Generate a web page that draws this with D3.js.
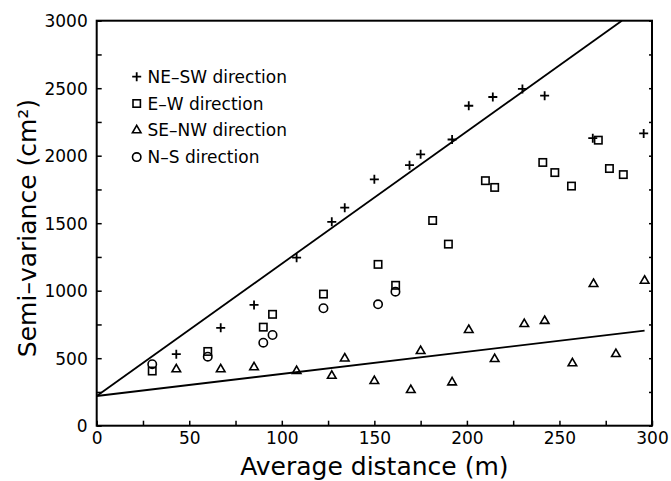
<!DOCTYPE html>
<html><head><meta charset="utf-8">
<script src="https://d3js.org/d3.v7.min.js"></script>
<style>body{margin:0;background:#fff}svg{display:block}</style>
</head><body>
<script>
// ---- data ----
const neSW = [[43,530],[67,725],[85,895],[108,1245],[127,1510],[134,1615],[150,1825],[169,1930],[175,2010],[192,2120],[201,2370],[214,2435],[230,2495],[242,2445],[268,2130],[295.5,2165]];
const eW = [[30,405],[60,550],[90,730],[95,825],[122.5,975],[152,1195],[161.5,1040],[181.5,1520],[190,1345],[210,1815],[215,1765],[241,1950],[247.5,1875],[256.5,1775],[271,2115],[277,1905],[284.5,1860]];
const seNW = [[43,418],[67,418],[85,433],[108,405],[127,370],[134,498],[150,331],[169.7,264],[175,553],[192,321],[201,709],[215,494],[231,753],[242,776],[257,462],[268.4,1050],[280.5,531],[296,1074]];
const nS = [[30,455],[60,511],[90,615],[95,672],[122.5,870],[152,899],[161.4,993]];
const neLine = [[0,220],[283.7,3000]];
const seLine = [[0,220],[296,704]];
const xTicks = [0,50,100,150,200,250,300];
const yTicks = [0,500,1000,1500,2000,2500,3000];
const legendLabels = ["NE–SW direction","E–W direction","SE–NW direction","N–S direction"];
const xTitle = "Average distance (m)";
const yTitle = "Semi–variance (cm²)";

// ---- layout ----
const W = 671, H = 481;
const svg = d3.select("body").append("svg").attr("width", W).attr("height", H);
const x = d3.scaleLinear().domain([0,300]).range([96.7,652]);
const y = d3.scaleLinear().domain([0,3000]).range([425.7,20.7]);
const font = "'DejaVu Sans', sans-serif";
const ink = "#000";
const fmt = d3.format("d");

// frame
svg.append("rect").attr("x", x(0)).attr("y", y(3000))
  .attr("width", x(300)-x(0)).attr("height", y(0)-y(3000))
  .attr("fill","none").attr("stroke",ink).attr("stroke-width",2);

// axes (ticks inward)
const xAxis = svg.append("g").attr("transform",`translate(0,${y(0)})`)
  .call(d3.axisBottom(x).tickValues(d3.range(0,301,25)).tickSize(-5).tickFormat(""));
const xLab = svg.append("g").attr("transform",`translate(0,${y(0)})`)
  .call(d3.axisBottom(x).tickValues(xTicks).tickSize(0).tickPadding(18).tickFormat(fmt));
const yAxis = svg.append("g").attr("transform",`translate(${x(0)},0)`)
  .call(d3.axisLeft(y).tickValues(d3.range(0,3001,250)).tickSize(-5).tickFormat(""));
const yLab = svg.append("g").attr("transform",`translate(${x(0)},0)`)
  .call(d3.axisLeft(y).tickValues(yTicks).tickSize(0).tickPadding(9).tickFormat(fmt));
const yRight = svg.append("g").attr("transform",`translate(${x(300)},0)`)
  .call(d3.axisRight(y).tickValues(d3.range(0,3001,250)).tickSize(-3).tickFormat(""));
[xAxis,xLab,yAxis,yLab,yRight].forEach(g=>{
  g.select(".domain").remove();
  g.selectAll("line").attr("stroke",ink).attr("stroke-width",1.5);
  g.selectAll("text").attr("font-family",font).attr("font-size",17).attr("fill",ink);
});
xLab.selectAll("text").attr("dy","0");
yLab.selectAll("text").attr("dy","0.36em");

// titles
svg.append("text").attr("x",(x(0)+x(300))/2).attr("y",475)
  .attr("text-anchor","middle").attr("font-family",font).attr("font-size",25)
  .attr("fill",ink).text(xTitle);
svg.append("text").attr("transform",`translate(36,228) rotate(-90)`)
  .attr("text-anchor","middle").attr("font-family",font).attr("font-size",25)
  .attr("fill",ink).text(yTitle);

// lines
const line = d3.line().x(d=>x(d[0])).y(d=>y(d[1]));
[neLine, seLine].forEach(l=>{
  svg.append("path").attr("d",line(l)).attr("fill","none").attr("stroke",ink).attr("stroke-width",1.8);
});

// markers
const sw = 1.6;
function cross(g, cx, cy){
  g.append("path").attr("d",`M${cx-4.5},${cy}H${cx+4.5}M${cx},${cy-4.5}V${cy+4.5}`)
   .attr("stroke",ink).attr("stroke-width",1.8).attr("fill","none");
}
function square(g, cx, cy){
  g.append("rect").attr("x",cx-3.7).attr("y",cy-3.7).attr("width",7.4).attr("height",7.4)
   .attr("fill","none").attr("stroke",ink).attr("stroke-width",sw);
}
function tri(g, cx, cy){
  g.append("path").attr("d",d3.symbol().type(d3.symbolTriangle).size(32)())
   .attr("transform",`translate(${cx},${cy})`)
   .attr("fill","none").attr("stroke",ink).attr("stroke-width",sw);
}
function circ(g, cx, cy){
  g.append("circle").attr("cx",cx).attr("cy",cy).attr("r",4.2)
   .attr("fill","none").attr("stroke",ink).attr("stroke-width",sw);
}
const series = [[neSW,cross],[eW,square],[seNW,tri],[nS,circ]];
const pts = svg.append("g");
series.forEach(([data,fn])=>data.forEach(d=>fn(pts, x(d[0]), y(d[1]))));

// legend
const lg = svg.append("g");
legendLabels.forEach((lab,i)=>{
  const yy = 82.7 + i*26.8;
  series[i][1](lg, 136.7, yy-6);
  lg.append("text").attr("x",147.5).attr("y",yy).attr("font-family",font)
    .attr("font-size",17).attr("fill",ink).text(lab);
});
</script>
</body></html>
